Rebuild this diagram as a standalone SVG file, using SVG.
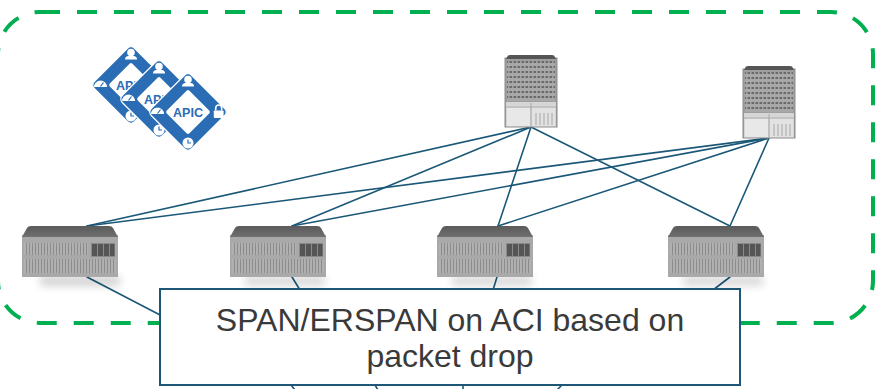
<svg xmlns="http://www.w3.org/2000/svg" width="885" height="389" viewBox="0 0 885 389">
  <style>
    .link { stroke: #1b5878; stroke-width: 1.6; fill: none; stroke-linecap: round; }
    .fabric { fill: none; stroke: #00b050; stroke-width: 4; stroke-dasharray: 20 17; }
    .label-box { fill: #ffffff; stroke: #1d5677; stroke-width: 2; }
    .label { font-family: "Liberation Sans", Arial, sans-serif; font-size: 32px; fill: #3a3a3a; text-anchor: middle; }
    .apic-text { font-family: "Liberation Sans", Arial, sans-serif; font-size: 12.5px; font-weight: bold; fill: #2a6db5; text-anchor: middle; }
  </style>
  <defs>
    <filter id="soft" x="-10%" y="-10%" width="120%" height="120%">
      <feGaussianBlur stdDeviation="0.6"/>
    </filter>
    <filter id="shadowBlur" x="-30%" y="-100%" width="160%" height="300%">
      <feGaussianBlur stdDeviation="4"/>
    </filter>
    <linearGradient id="leafTop" x1="0" y1="0" x2="0" y2="1">
      <stop offset="0" stop-color="#5a5a5a"/>
      <stop offset="1" stop-color="#707070"/>
    </linearGradient>
    <pattern id="leafStripes" width="3" height="10" patternUnits="userSpaceOnUse">
      <rect width="3" height="10" fill="#b0b0b0"/>
      <rect x="1" width="1" height="10" fill="#8c8c8c"/>
    </pattern>
    <pattern id="spinePorts" width="4" height="5" patternUnits="userSpaceOnUse">
      <rect width="4" height="5" fill="#a8a8a8"/>
      <rect x="0.5" y="1" width="2.6" height="2" fill="#6a6a6a"/>
    </pattern>

    <!-- spine chassis, 52 x 72 -->
    <symbol id="spine" viewBox="0 0 52 72" overflow="visible">
      <rect x="0" y="3" width="52" height="69" fill="#9e9e9e" stroke="#8c8c8c" stroke-width="1"/>
      <path d="M1,4 L3,0.5 Q4,0 5,0 L47,0 Q48,0 49,0.5 L51,4 Z" fill="#555555"/>
      <rect x="2" y="6" width="48" height="40" fill="url(#spinePorts)"/>
      <rect x="1" y="47" width="50" height="24.5" fill="#d6d6d6"/>
      <line x1="1" y1="52" x2="51" y2="52" stroke="#a6a6a6" stroke-width="0.8"/>
      <rect x="2" y="53" width="23" height="18" fill="#e8e8e8"/>
      <rect x="27" y="53" width="23" height="18" fill="#e2e2e2"/>
      <line x1="26" y1="48" x2="26" y2="71.5" stroke="#a0a0a0" stroke-width="0.8"/>
      <g stroke="#9a9a9a" stroke-width="0.8">
        <line x1="31" y1="58" x2="31" y2="70"/>
        <line x1="35" y1="58" x2="35" y2="70"/>
        <line x1="39" y1="58" x2="39" y2="70"/>
        <line x1="43" y1="58" x2="43" y2="70"/>
        <line x1="47" y1="58" x2="47" y2="70"/>
      </g>
    </symbol>

    <!-- leaf switch, 96 x 51 -->
    <symbol id="leaf" viewBox="0 0 96 51" overflow="visible">
      <rect x="0" y="9" width="96" height="42" fill="#a9a9a9"/>
      <path d="M0,11 L5,2 Q6,0 9,0 L87,0 Q90,0 91,2 L96,11 Z" fill="url(#leafTop)"/>
      <rect x="2" y="17" width="64" height="12" fill="url(#leafStripes)"/>
      <rect x="2" y="33" width="92" height="14" fill="url(#leafStripes)"/>
      <rect x="69" y="17" width="24" height="14" fill="#8a8a8a"/>
      <rect x="70" y="18" width="5" height="12" fill="#555555"/>
      <rect x="76" y="18" width="5" height="12" fill="#555555"/>
      <rect x="82" y="18" width="5" height="12" fill="#555555"/>
      <rect x="88" y="18" width="4.5" height="12" fill="#555555"/>
    </symbol>

    <!-- APIC controller badge -->
    <symbol id="apic" viewBox="-42 -42 84 84" overflow="visible">
      <rect x="-28.5" y="-28.5" width="57" height="57" rx="5" transform="rotate(45)" fill="#2a6db5" stroke="#ffffff" stroke-width="1.2"/>
      <rect x="-16" y="-16" width="32" height="32" rx="2" transform="rotate(45)" fill="#ffffff"/>
      <text class="apic-text" x="0" y="4.5">APIC</text>
      <!-- user -->
      <circle cx="0" cy="-32.5" r="3.8" fill="#ffffff"/>
      <path d="M-6,-25.5 Q-6,-28.8 -2.5,-29 L2.5,-29 Q6,-28.8 6,-25.5 Z" fill="#ffffff"/>
      <!-- gauge -->
      <path d="M-37,2 A6.5,6.5 0 0 1 -24,2 Z" fill="#ffffff"/>
      <line x1="-30.5" y1="1.5" x2="-27.5" y2="-2.5" stroke="#2a6db5" stroke-width="1.2"/>
      <!-- clock -->
      <circle cx="0" cy="31" r="5.5" fill="#ffffff"/>
      <path d="M0,27.5 V31 H3" stroke="#2a6db5" stroke-width="1.2" fill="none"/>
      <!-- lock -->
      <path d="M27.7,-1.5 V-4 A3,3 0 0 1 33.7,-4 V-1.5" stroke="#ffffff" stroke-width="1.6" fill="none"/>
      <rect x="25.8" y="-1.5" width="9.8" height="7.5" rx="0.8" fill="#ffffff"/>
    </symbol>
  </defs>

  <rect width="885" height="389" fill="#ffffff"/>

  <!-- fabric boundary -->
  <rect class="fabric" x="-2" y="12" width="875" height="311" rx="42" ry="42"/>

  <!-- connectors -->
  <g id="connectors">
    <line class="link" x1="531" y1="127" x2="87" y2="226"/>
    <line class="link" x1="531" y1="127" x2="292" y2="226"/>
    <line class="link" x1="531" y1="127" x2="498" y2="226"/>
    <line class="link" x1="531" y1="127" x2="730" y2="226"/>
    <line class="link" x1="769" y1="138" x2="87" y2="226"/>
    <line class="link" x1="769" y1="138" x2="292" y2="226"/>
    <line class="link" x1="769" y1="138" x2="498" y2="226"/>
    <line class="link" x1="769" y1="138" x2="730" y2="226"/>
    <line class="link" x1="87" y1="277" x2="162" y2="316"/>
    <line class="link" x1="292" y1="277" x2="300" y2="290"/>
    <line class="link" x1="497" y1="277" x2="493" y2="290"/>
    <line class="link" x1="730" y1="277" x2="713" y2="290"/>
    <line class="link" x1="291" y1="385" x2="295" y2="390"/>
    <line class="link" x1="375" y1="385" x2="378" y2="390"/>
    <line class="link" x1="463" y1="385" x2="463" y2="390"/>
    <line class="link" x1="562" y1="385" x2="557" y2="390"/>
  </g>

  <!-- APIC cluster -->
  <g id="apic-cluster">
    <use href="#apic" x="89" y="43" width="84" height="84"/>
    <use href="#apic" x="117" y="57" width="84" height="84"/>
    <use href="#apic" x="146" y="70" width="84" height="84"/>
  </g>

  <!-- spines -->
  <g id="spine-1">
    <use href="#spine" x="505" y="55" width="52" height="72"/>
  </g>
  <g id="spine-2">
    <use href="#spine" x="743" y="66" width="52" height="72"/>
  </g>

  <!-- leaves -->
  <g id="leaf-1">
    <rect x="40" y="276" width="80" height="10" fill="#000000" opacity="0.18" filter="url(#shadowBlur)"/>
    <use href="#leaf" x="22" y="226" width="96" height="51" filter="url(#soft)"/>
  </g>
  <g id="leaf-2">
    <rect x="245" y="276" width="80" height="10" fill="#000000" opacity="0.15" filter="url(#shadowBlur)"/>
    <use href="#leaf" x="230" y="226" width="96" height="51" filter="url(#soft)"/>
  </g>
  <g id="leaf-3">
    <rect x="452" y="276" width="80" height="10" fill="#000000" opacity="0.15" filter="url(#shadowBlur)"/>
    <use href="#leaf" x="437" y="226" width="96" height="51" filter="url(#soft)"/>
  </g>
  <g id="leaf-4">
    <rect x="683" y="276" width="80" height="10" fill="#000000" opacity="0.15" filter="url(#shadowBlur)"/>
    <use href="#leaf" x="668" y="226" width="96" height="51" filter="url(#soft)"/>
  </g>

  <!-- caption -->
  <g id="caption">
    <rect class="label-box" x="160" y="289" width="580" height="96"/>
    <text class="label" x="450" y="331">SPAN/ERSPAN on ACI based on</text>
    <text class="label" x="450" y="367">packet drop</text>
  </g>
</svg>
